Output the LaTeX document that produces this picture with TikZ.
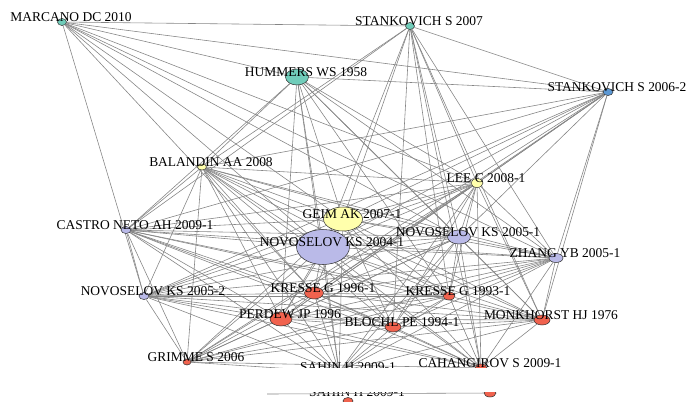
\documentclass[tikz,border=0pt]{standalone}
\usepackage{fontspec}
\setmainfont{Liberation Serif}
\usepackage{tikz}
\usetikzlibrary{shapes.geometric,backgrounds}
\usepackage{xcolor}
\definecolor{citeteal}{RGB}{112,205,186}
\definecolor{citeblue}{RGB}{92,152,212}
\definecolor{citeyellow}{RGB}{255,255,172}
\definecolor{citelilac}{RGB}{186,186,232}
\definecolor{citered}{RGB}{240,98,78}
\newcommand{\citefont}{\fontsize{11.5}{12}\selectfont}

\begin{document}
\begin{tikzpicture}[x=0.3mm,y=-0.3mm,
        paper/.style n args={3}{ellipse, draw=black!80, line width=0.45pt, fill=#1, inner sep=0pt,
                minimum width=#2*0.6mm, minimum height=#3*0.6mm},
        lbl/.style={font=\citefont, inner sep=0pt, xshift=2.7mm, yshift=1.5mm},
        link/.style={draw=black!48, line width=0.5pt}]
        \useasboundingbox (0,0) rectangle (688,401);

        % cited papers
        \node[paper={citeteal}{4.5}{3.5},   label={[lbl]center:MARCANO DC 2010}]       (marcano)  at (62,22)  {};
        \node[paper={citeteal}{4.5}{3.5},   label={[lbl]center:STANKOVICH S 2007}]     (stank07)  at (410,26) {};
        \node[paper={citeteal}{11.5}{8},    label={[lbl]center:HUMMERS WS 1958}]       (hummers)  at (297,77) {};
        \node[paper={citeblue}{5}{3.5},     label={[lbl]center:STANKOVICH S 2006-2}]   (stank06)  at (608,92) {};
        \node[paper={citeyellow}{4.5}{3},   label={[lbl]center:BALANDIN AA 2008}]      (balandin) at (202,167) {};
        \node[paper={citeyellow}{6}{4.5},   label={[lbl]center:LEE C 2008-1}]          (leec)     at (477,183) {};
        \node[paper={citelilac}{5}{3.5},    label={[lbl]center:CASTRO NETO AH 2009-1}] (castro)   at (126,230) {};
        \node[paper={citeyellow}{19.5}{12}, label={[lbl]center:GEIM AK 2007-1}]        (geim)     at (343,219) {};
        \node[paper={citelilac}{26.5}{17.5},label={[lbl]center:NOVOSELOV KS 2004-1}]   (nov04)    at (323,247) {};
        \node[paper={citelilac}{11.5}{7},   label={[lbl]center:NOVOSELOV KS 2005-1}]   (nov051)   at (459,237) {};
        \node[paper={citelilac}{7}{4.5},    label={[lbl]center:ZHANG YB 2005-1}]       (zhang)    at (556,258) {};
        \node[paper={citelilac}{5}{3.5},    label={[lbl]center:NOVOSELOV KS 2005-2}]   (nov052)   at (144,296) {};
        \node[paper={citered}{9.5}{6},      label={[lbl]center:KRESSE G 1996-1}]       (kresse96) at (314,293) {};
        \node[paper={citered}{6}{4},        label={[lbl]center:KRESSE G 1993-1}]       (kresse93) at (449,296) {};
        \node[paper={citered}{11}{7},       label={[lbl]center:PERDEW JP 1996}]        (perdew)   at (281,319) {};
        \node[paper={citered}{8}{5},        label={[lbl]center:BLOCHL PE 1994-1}]      (blochl)   at (393,327) {};
        \node[paper={citered}{8}{5},        label={[lbl]center:MONKHORST HJ 1976}]     (monk)     at (542,320) {};
        \node[paper={citered}{4}{3},        label={[lbl]center:GRIMME S 2006}]         (grimme)   at (187,362) {};
        \node[paper={citered}{6}{4},        label={[lbl]center:CAHANGIROV S 2009-1}]   (cahang)   at (481,368) {};
        \node[paper={citered}{5}{3.5},      label={[lbl]center:SAHIN H 2009-1}]        (sahin)    at (339,372) {};

        % co-citation links
        \begin{scope}[on background layer]
        \foreach \t in {stank07,stank06,hummers,leec,zhang,nov051,geim,nov04,kresse96,nov052}
                \draw[link] (marcano) -- (\t);
        \foreach \t in {stank06,balandin,castro,geim,nov04,nov051,leec,monk,cahang,kresse93,blochl,zhang}
                \draw[link] (stank07) -- (\t);
        \foreach \t in {stank06,balandin,castro,geim,nov04,nov051,leec,zhang,monk,sahin,perdew,kresse93}
                \draw[link] (hummers) -- (\t);
        \foreach \t in {balandin,castro,leec,geim,nov04,nov051,zhang,monk,nov052,kresse96,perdew,grimme}
                \draw[link] (stank06) -- (\t);
        \foreach \t in {castro,nov052,geim,nov04,nov051,leec,zhang,kresse96,kresse93,perdew,blochl,monk,sahin,cahang,grimme}
                \draw[link] (balandin) -- (\t);
        \foreach \t in {castro,geim,nov04,nov051,zhang,nov052,kresse96,kresse93,perdew,blochl,monk,sahin,cahang,grimme}
                \draw[link] (leec) -- (\t);
        \foreach \t in {nov052,geim,nov04,nov051,zhang,kresse96,perdew,blochl,monk,grimme,sahin,cahang,kresse93}
                \draw[link] (castro) -- (\t);
        \foreach \t in {nov04,nov051,zhang,nov052,kresse96,kresse93,perdew,blochl,monk,grimme,sahin,cahang}
                \draw[link] (geim) -- (\t);
        \foreach \t in {nov051,zhang,nov052,kresse96,kresse93,perdew,blochl,monk,grimme,sahin,cahang}
                \draw[link] (nov04) -- (\t);
        \foreach \t in {zhang,nov052,kresse96,kresse93,perdew,blochl,monk,grimme,sahin,cahang}
                \draw[link] (nov051) -- (\t);
        \foreach \t in {nov052,kresse96,kresse93,perdew,blochl,monk,grimme,sahin,cahang}
                \draw[link] (zhang) -- (\t);
        \foreach \t in {kresse96,kresse93,perdew,blochl,monk,grimme,sahin,cahang}
                \draw[link] (nov052) -- (\t);
        \foreach \t in {kresse93,perdew,blochl,monk,grimme,sahin,cahang}
                \draw[link] (kresse96) -- (\t);
        \foreach \t in {perdew,blochl,monk,grimme,sahin,cahang}
                \draw[link] (kresse93) -- (\t);
        \foreach \t in {blochl,monk,grimme,sahin,cahang}
                \draw[link] (perdew) -- (\t);
        \foreach \t in {monk,grimme,sahin,cahang}
                \draw[link] (blochl) -- (\t);
        \foreach \t in {grimme,sahin,cahang}
                \draw[link] (monk) -- (\t);
        \draw[link] (grimme) -- (sahin);
        \draw[link] (grimme) -- (cahang);
        \draw[link] (sahin) -- (cahang);
        \end{scope}

        % cut band at the bottom
        \fill[white] (0,367.5) rectangle (688,401);
        \begin{scope}
        \clip (0,392.5) rectangle (688,401);
        \node[paper={citered}{5}{3.5}] (sahinb) at (348,401) {};
        \node[paper={citered}{6}{4}]   (cahangb) at (490,393) {};
        \node[lbl, xshift=-2.7mm, yshift=-1.5mm] (sahinl) at (357,392.5) {SAHIN H 2009-1};
        \coordinate (stub) at (267,394);
        \draw[link] (stub) -- (cahangb);
        \end{scope}
\end{tikzpicture}
\end{document}
